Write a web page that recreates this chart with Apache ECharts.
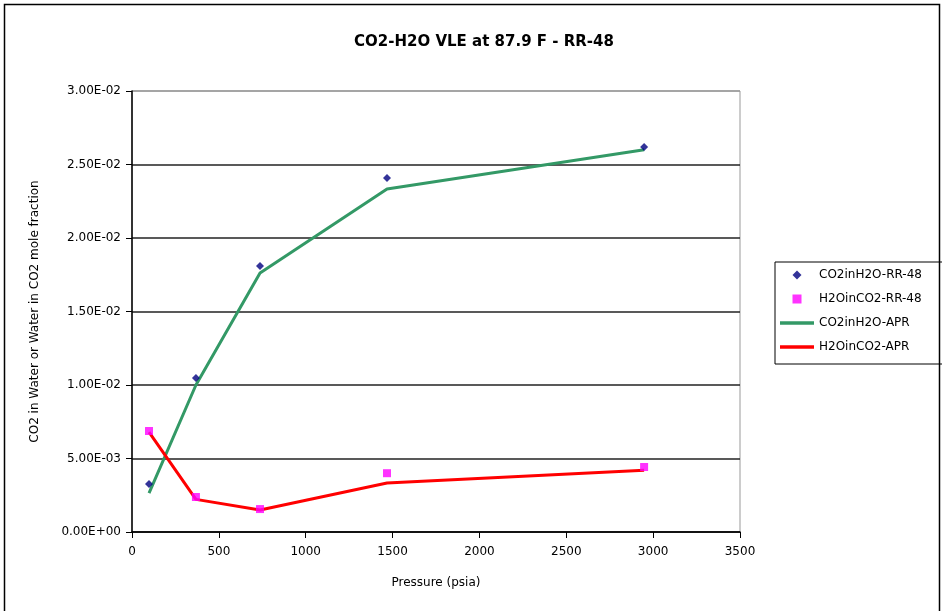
<!DOCTYPE html>
<html><head><meta charset="utf-8">
<script src="https://cdn.jsdelivr.net/npm/echarts@6/dist/echarts.min.js"></script>
<style>html,body{margin:0;padding:0;background:#fff}#c{width:942px;height:611px}</style>
</head><body><div id="c"></div>
<script>
const pressures = [98, 368, 737, 1468, 2948];
const co2InH2O_RR48 = [0.00327, 0.01048, 0.0181, 0.02408, 0.02619];
const h2oInCO2_RR48 = [0.00687, 0.00238, 0.00156, 0.0040, 0.00442];
const co2InH2O_APR = [0.00265, 0.0100, 0.01762, 0.02333, 0.0260];
const h2oInCO2_APR = [0.0068, 0.00222, 0.0015, 0.00333, 0.0042];
const seriesNames = ['CO2inH2O-RR-48','H2OinCO2-RR-48','CO2inH2O-APR','H2OinCO2-APR'];

function pairs(xs, ys){ return xs.map((x,i)=>[x, ys[i]]); }
function sci(v){
  if (v === 0) return '0.00E+00';
  let s = v.toExponential(2).toUpperCase();
  let m = s.match(/^(.*)E([+-])(\d+)$/);
  return m[1] + 'E' + m[2] + (m[3].length<2 ? '0'+m[3] : m[3]);
}
const font = '"DejaVu Sans", Arial, sans-serif';
const chart = echarts.init(document.getElementById('c'), null, {renderer:'canvas'});
chart.setOption({
  backgroundColor:'#fff',
  animation:false,
  title:{text:'CO2-H2O VLE at 87.9 F - RR-48', left:479, top:30, textAlign:'center',
    textStyle:{fontFamily:font, fontSize:15, fontWeight:'bold', color:'#000'}},
  graphic:[{type:'rect', shape:{x:4.5,y:4.5,width:935,height:640}, style:{fill:null, stroke:'#000', lineWidth:1.5}, silent:true}],
  grid:{left:132, right:202, top:91, bottom:79, show:true, borderColor:'#999', borderWidth:1},
  legend:{orient:'vertical', left:775, top:262, padding:[6,40,10,5], itemGap:10,
    borderColor:'#000', borderWidth:1, borderRadius:0, itemWidth:34, itemHeight:9,
    textStyle:{fontFamily:font, fontSize:12, lineHeight:14, color:'#000'},
    data:[
      {name:seriesNames[0], icon:'path://M1,0L2,1L1,2L0,1Z'},
      {name:seriesNames[1], icon:'path://M0,0H1V1H0Z'},
      {name:seriesNames[2], icon:'path://M0,0H34V3.5H0Z'},
      {name:seriesNames[3], icon:'path://M0,0H34V3.5H0Z'}
    ]},
  xAxis:{type:'value', min:0, max:3500, interval:500,
    name:'Pressure (psia)', nameLocation:'middle', nameGap:45,
    nameTextStyle:{fontFamily:font, fontSize:12, color:'#000'},
    axisLine:{show:true, onZero:false, lineStyle:{color:'#000', width:1.5}},
    axisTick:{show:true, inside:false, length:6, lineStyle:{color:'#000'}},
    axisLabel:{fontFamily:font, fontSize:12, color:'#000', margin:14, formatter:v=>String(v)},
    splitLine:{show:false}},
  yAxis:{type:'value', min:0, max:0.03, interval:0.005,
    name:'CO2 in Water or Water in CO2 mole fraction', nameLocation:'middle', nameGap:91,
    nameTextStyle:{fontFamily:font, fontSize:12, color:'#000'},
    axisLine:{show:true, onZero:false, lineStyle:{color:'#000', width:1.5}},
    axisTick:{show:true, inside:false, length:6, lineStyle:{color:'#000'}},
    axisLabel:{fontFamily:font, fontSize:12, color:'#000', margin:11, formatter:sci},
    splitLine:{show:true, lineStyle:{color:['#222','#222','#222','#222','#222','#222','#999'], width:1.5}}},
  series:[
    {name:seriesNames[2], type:'line', data:pairs(pressures, co2InH2O_APR), showSymbol:false, symbol:'none',
      itemStyle:{color:'#339966'}, lineStyle:{color:'#339966', width:3}, z:2},
    {name:seriesNames[3], type:'line', data:pairs(pressures, h2oInCO2_APR), showSymbol:false, symbol:'none',
      itemStyle:{color:'#FF0000'}, lineStyle:{color:'#FF0000', width:3}, z:2},
    {name:seriesNames[0], type:'scatter', data:pairs(pressures, co2InH2O_RR48), symbol:'diamond', symbolSize:8,
      itemStyle:{color:'#000080'}, z:3},
    {name:seriesNames[1], type:'scatter', data:pairs(pressures, h2oInCO2_RR48), symbol:'rect', symbolSize:8,
      itemStyle:{color:'#FF00FF'}, z:3}
  ]
});
</script></body></html>
